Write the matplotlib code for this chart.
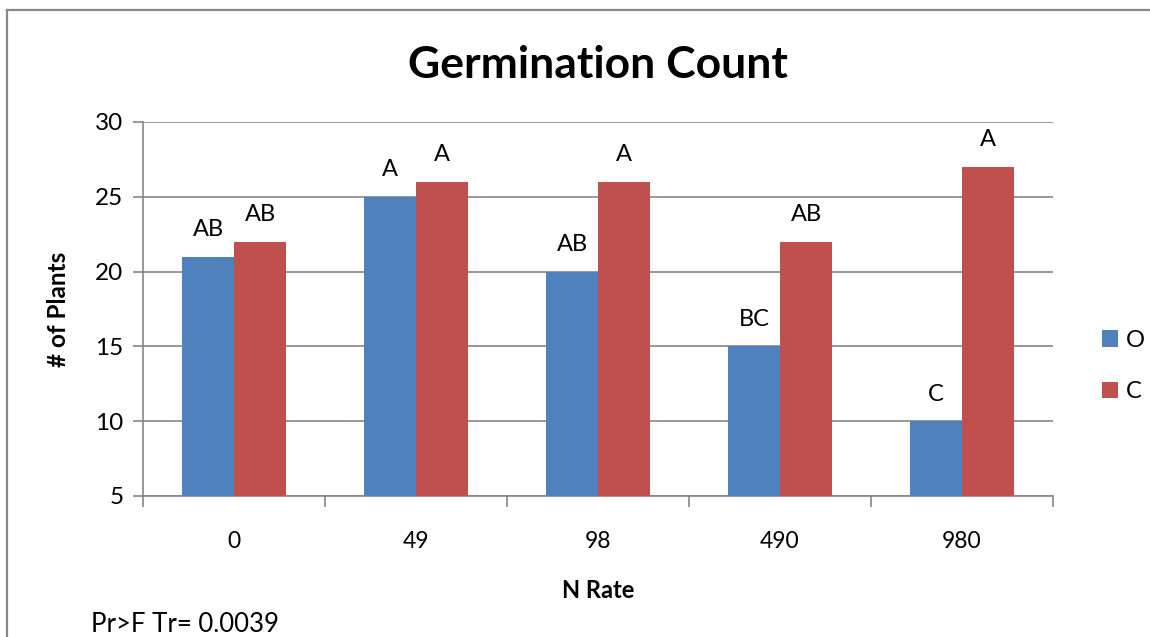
#import nessesary modules
import numpy as np
import matplotlib
matplotlib.use('Agg')
import matplotlib.pyplot as plt
from matplotlib.lines import Line2D

#define data
CATEGORIES = ['0', '49', '98', '490', '980']
O_VALUES = [21, 25, 20, 15, 10]
C_VALUES = [22, 26, 26, 22, 27]
O_LETTERS = ['AB', 'A', 'AB', 'BC', 'C']
C_LETTERS = ['AB', 'A', 'A', 'AB', 'A']
Y_TICKS = [5, 10, 15, 20, 25, 30]

BLUE = '#4F81BD'
RED = '#C0504D'
GRID = '#868686'

plt.rcParams['font.family'] = ['Lato', 'DejaVu Sans']

fig = plt.figure(figsize=(11.5, 6.37), dpi=100)
ax = fig.add_axes([143/1150, 1-496/637, 910/1150, 374/637])

#outer chart frame (only left and top edges are in view)
fx = 6.5/1150
fy = 1 - 10/637
fig.lines.append(Line2D([fx, fx], [0, fy], transform=fig.transFigure,
                        color='#888888', linewidth=1.6))
fig.lines.append(Line2D([fx, 1], [fy, fy], transform=fig.transFigure,
                        color='#888888', linewidth=1.6))

x = np.arange(len(CATEGORIES))
width = 52/182
bars_o = ax.bar(x - width/2, O_VALUES, width, color=BLUE, label='O', zorder=3)
bars_c = ax.bar(x + width/2, C_VALUES, width, color=RED, label='C', zorder=3)

#letters above bars
for bars, letters in [(bars_o, O_LETTERS), (bars_c, C_LETTERS)]:
    for b, t in zip(bars, letters):
        ax.annotate(t, (b.get_x() + b.get_width()/2, b.get_height()),
                    xytext=(0, 12), textcoords='offset points',
                    ha='center', va='bottom', fontsize=17)

ax.set_ylim(5, 30)
ax.set_xlim(-0.5, len(CATEGORIES) - 0.5)
ax.set_yticks(Y_TICKS)
ax.set_xticks(x)
ax.set_xticklabels(CATEGORIES)
ax.set_xticks(np.arange(len(CATEGORIES) + 1) - 0.5, minor=True)
ax.tick_params(axis='x', which='major', length=0, labelsize=16.5, pad=25)
ax.tick_params(axis='x', which='minor', length=8, color=GRID, width=1.2)
ax.tick_params(axis='y', length=7, color=GRID, width=1.2, labelsize=17.5, pad=7)
ax.yaxis.grid(True, color=GRID, linewidth=1.2, zorder=0)
ax.set_axisbelow(True)
for s in ['top', 'right']:
    ax.spines[s].set_visible(False)
for s in ['left', 'bottom']:
    ax.spines[s].set_color(GRID)
    ax.spines[s].set_linewidth(1.2)

ax.set_title('Germination Count', fontsize=32, fontweight='bold', pad=32)
ax.set_xlabel('N Rate', fontsize=17, fontweight='bold', labelpad=20)
ax.set_ylabel('# of Plants', fontsize=17.5, fontweight='bold', labelpad=18)

ax.legend(loc='center left', bbox_to_anchor=(1.03, 0.348), frameon=False,
          fontsize=17, handlelength=0.7, handleheight=0.7, labelspacing=1.3,
          handletextpad=0.35)

fig.text(91/1150, 1-632/637, 'Pr>F Tr= 0.0039', fontsize=18.5, ha='left', va='baseline')

plt.savefig('out.png', dpi=100)
